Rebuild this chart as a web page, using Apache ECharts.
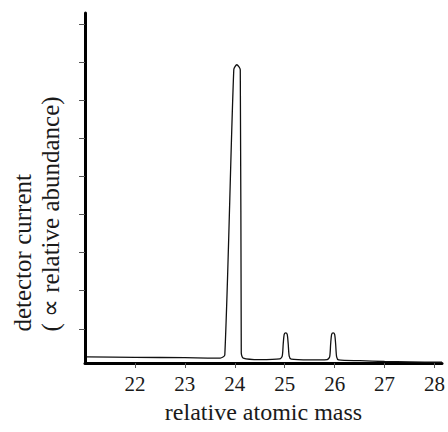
<!DOCTYPE html>
<html>
<head>
<meta charset="utf-8">
<script src="https://cdn.jsdelivr.net/npm/echarts@6/dist/echarts.min.js"></script>
<style>
  html, body { margin: 0; padding: 0; background: #fff; }
  #chart { width: 448px; height: 432px; }
  /* svg renderer: force the serif face on every text node */
  #chart svg text, #chart svg tspan { font-family: "Liberation Serif", "Times New Roman", serif !important; }
</style>
</head>
<body>
<div id="chart"></div>
<script>
// mass spectrum trace (relative atomic mass, detector current in tick units)
const massX = [21.04, 22.0, 23.0, 23.6, 23.71, 23.8, 23.98, 24.04, 24.11, 24.13, 24.17,
  24.5, 24.9, 24.95, 24.97, 24.99, 25.02, 25.05, 25.07, 25.09, 25.13,
  25.5, 25.85, 25.9, 25.92, 25.94, 25.97, 26.0, 26.02, 26.04, 26.08,
  26.5, 27.0, 27.5, 28.15];
const currentY = [0.26, 0.25, 0.24, 0.23, 0.23, 0.31, 7.81, 7.94, 7.81, 0.36, 0.23,
  0.19, 0.21, 0.28, 0.6, 0.85, 0.89, 0.85, 0.6, 0.28, 0.2,
  0.18, 0.19, 0.26, 0.6, 0.85, 0.89, 0.85, 0.6, 0.26, 0.18,
  0.16, 0.14, 0.13, 0.12];
const xTicks = [22, 23, 24, 25, 26, 27, 28];
const yTicks = [1, 2, 3, 4, 5, 6, 7, 8, 9];

const serif = 'Liberation Serif';

// canvas drew the rotated title twice, svg does not
const chart = echarts.init(document.getElementById('chart'), null, { renderer: 'svg' });
const option = {
  animation: false,
  grid: { left: 85, right: 3, top: 13, bottom: 69 },
  xAxis: {
    type: 'value',
    min: 21,
    max: 28.15,
    name: 'relative atomic mass',
    nameLocation: 'middle',
    nameGap: 37,
    nameTextStyle: { fontFamily: serif, fontSize: 24, color: '#1a1a1a' },
    axisLine: { onZero: false, lineStyle: { color: '#000', width: 3 } },
    axisTick: { customValues: xTicks, length: 5, lineStyle: { color: '#555', width: 1 } },
    axisLabel: { customValues: xTicks, margin: 10, fontFamily: serif, fontSize: 21, color: '#1a1a1a' },
    splitLine: { show: false }
  },
  yAxis: {
    type: 'value',
    min: 0.1,
    max: 9.3,
    name: '{a|detector current}\n{a|( \u221d relative abundance)}',
    nameLocation: 'middle',
    nameGap: 21,
    nameTextStyle: {
      fontFamily: serif,
      fontSize: 25,
      color: '#1a1a1a',
      lineHeight: 28,
      padding: [0, 52, 0, 0],
      rich: { a: { fontFamily: serif, fontSize: 25, lineHeight: 28, align: 'left', color: '#1a1a1a' } }
    },
    axisLine: { show: true, lineStyle: { color: '#000', width: 3 } },
    axisTick: { show: true, customValues: yTicks, length: 6, lineStyle: { color: '#555', width: 1 } },
    axisLabel: { show: false },
    splitLine: { show: false }
  },
  series: [{
    type: 'line',
    data: massX.map((m, i) => [m, currentY[i]]),
    showSymbol: false,
    smooth: 0.25,
    lineStyle: { color: '#111', width: 1.3 }
  }]
};
chart.setOption(option);
</script>
</body>
</html>
